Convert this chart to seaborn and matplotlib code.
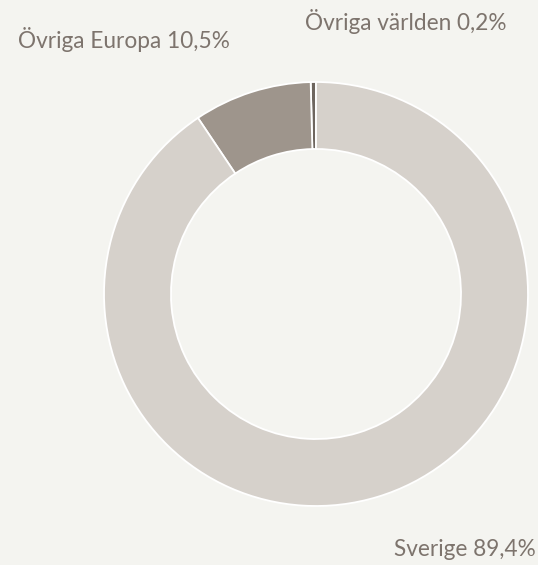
import matplotlib
matplotlib.use("Agg")
import matplotlib.pyplot as plt
import seaborn as sns

regions = ["Övriga världen", "Övriga Europa", "Sverige"]
# slice sizes as drawn in the ring (the tiny slice is shown a bit wider than 0,2 %)
shares = [0.4, 9.0, 90.6]
label_text = ["Övriga världen 0,2%", "Övriga Europa 10,5%", "Sverige 89,4%"]

bg = "#f4f4f0"
slice_colors = ["#6e665f", "#9e958c", "#d6d1cb"]
text_color = "#7d746d"

sns.set_theme(style="white", rc={"figure.facecolor": bg, "axes.facecolor": bg})
plt.rcParams["font.family"] = ["Lato", "DejaVu Sans"]

fig = plt.figure(figsize=(5.38, 5.65), dpi=100)
ax = fig.add_axes([104 / 538, (565 - 506) / 565, 424 / 538, 424 / 565])

ax.pie(shares, colors=slice_colors, startangle=90, counterclock=True,
       radius=1, wedgeprops=dict(width=0.316, edgecolor="white", linewidth=1.3))
ax.set_xlim(-1, 1)
ax.set_ylim(-1, 1)
ax.set_aspect("equal")
ax.axis("off")

# labels placed around the ring like the original
fig.text(18 / 538, 1 - 40 / 565, label_text[1], color=text_color, fontsize=16.3,
         ha="left", va="center")
fig.text(305 / 538, 1 - 22 / 565, label_text[0], color=text_color, fontsize=16.3,
         ha="left", va="center")
fig.text(536 / 538, 1 - 550 / 565, label_text[2], color=text_color, fontsize=16.3,
         ha="right", va="center")

fig.savefig("out.png", dpi=100, facecolor=bg)
